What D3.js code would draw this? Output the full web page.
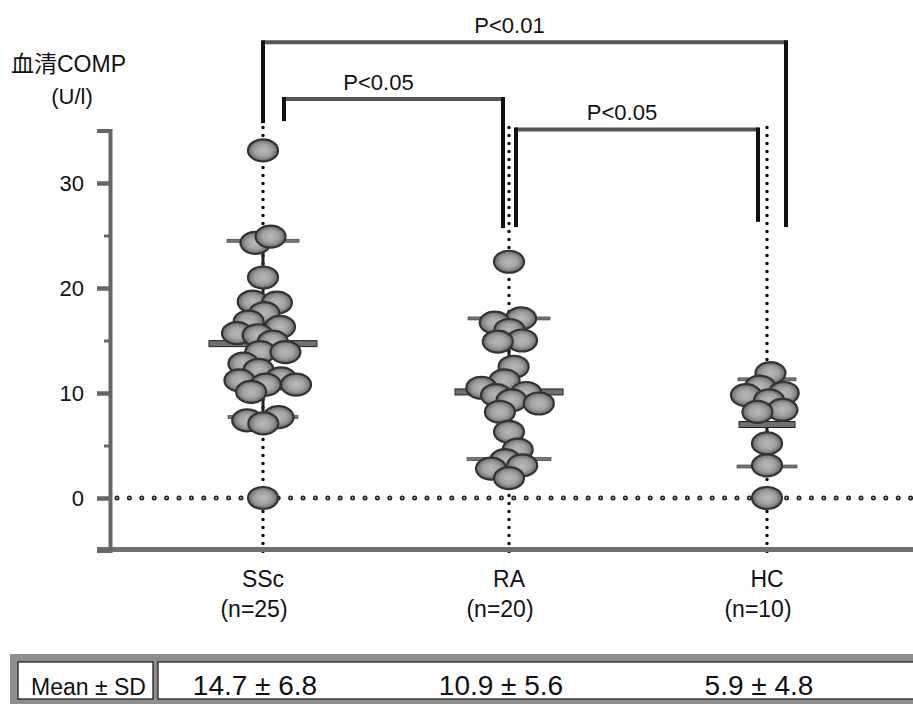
<!DOCTYPE html>
<html>
<head>
<meta charset="utf-8">
<script src="https://cdn.jsdelivr.net/npm/d3@7"></script>
<style>
  body { margin: 0; background: #fff; }
  svg text { font-family: "Liberation Sans", Arial, "Noto Sans CJK JP", sans-serif; fill: #111; }
</style>
</head>
<body>
<div class="comp-chart"></div>
<script>
"use strict";

// values
const categories = ["SSc", "RA", "HC"];
const n_labels = ["(n=25)", "(n=20)", "(n=10)"];
const ssc_values = [33.1, 24.3, 24.9, 21.0, 18.7, 18.6, 17.6, 16.8, 16.3, 15.7, 15.5, 14.9,
    13.9, 13.9, 12.8, 12.2, 11.4, 11.2, 10.8, 10.8, 10.1, 7.7, 7.4, 7.1, 0.0];
const ra_values = [22.5, 17.1, 16.7, 16.0, 15.0, 14.9, 12.5, 11.2, 10.5, 10.0, 9.8, 9.3,
    9.0, 8.2, 6.3, 4.6, 3.6, 3.1, 2.8, 1.9];
const hc_values = [11.9, 10.6, 10.0, 9.8, 9.3, 8.4, 8.2, 5.2, 3.1, 0.0];
const center_values = [14.7, 10.1, 7.0];
const upper_values = [24.5, 17.1, 11.3];
const lower_values = [7.7, 3.7, 3.0];
const mean_sd_labels = ["14.7 \u00b1 6.8", "10.9 \u00b1 5.6", "5.9 \u00b1 4.8"];
const y_ticks = [0, 10, 20, 30];
const y_minor_ticks = [5, 15, 25];
const brackets = [
    { from: "SSc", to: "HC", label: "P<0.01", top: 43.4, left_end: 35.7, right_end: 25.8 },
    { from: "SSc", to: "RA", label: "P<0.05", top: 38.0, left_end: 35.9, right_end: 25.7 },
    { from: "RA", to: "HC", label: "P<0.05", top: 35.1, left_end: 25.8, right_end: 26.3 }
];

window.onload = () => main();

function main() {
    const config = { width: 913, height: 704, axis_x: 110 };
    const svg = d3.select(".comp-chart")
        .append("svg")
        .attr("width", config.width)
        .attr("height", config.height);

    const x = d3.scaleOrdinal().domain(categories).range([263, 509, 767]);
    const y = d3.scaleLinear().domain([-5, 35]).range([550.5, 130.5]);

    const defs = svg.append("defs");
    const grad = defs.append("radialGradient").attr("id", "dot-fill");
    grad.append("stop").attr("offset", "0%").attr("stop-color", "#b9b9b9");
    grad.append("stop").attr("offset", "55%").attr("stop-color", "#a2a2a2");
    grad.append("stop").attr("offset", "85%").attr("stop-color", "#7c7c7c");
    grad.append("stop").attr("offset", "100%").attr("stop-color", "#666");

    // y label
    svg.append("text").attr("x", 11).attr("y", 72).style("font-size", "23px").text("血清COMP");
    svg.append("text").attr("x", 72).attr("y", 104).attr("text-anchor", "middle")
        .style("font-size", "22px").text("(U/l)");

    // brackets with p values
    const inset = [[0, 19], [21, -6], [7, -9]];
    brackets.forEach((b, i) => {
        const x0 = x(b.from) + inset[i][0];
        const x1 = x(b.to) + inset[i][1];
        const g = svg.append("g");
        g.append("line").attr("x1", x0).attr("x2", x1).attr("y1", y(b.top)).attr("y2", y(b.top))
            .attr("stroke", "#555").attr("stroke-width", 4);
        g.append("line").attr("x1", x0).attr("x2", x0).attr("y1", y(b.top) - 2).attr("y2", y(b.left_end))
            .attr("stroke", "#111").attr("stroke-width", 4);
        g.append("line").attr("x1", x1).attr("x2", x1).attr("y1", y(b.top) - 2).attr("y2", y(b.right_end))
            .attr("stroke", "#111").attr("stroke-width", 4);
        g.append("text").attr("x", (x0 + x1) / 2 - 15).attr("y", y(b.top) - 9)
            .attr("text-anchor", "middle").style("font-size", "22px").text(b.label);
    });

    // dotted group lines
    svg.selectAll(".group-line")
        .data(categories)
        .enter()
        .append("line")
        .attr("class", "group-line")
        .attr("x1", d => x(d)).attr("x2", d => x(d))
        .attr("y1", y(35) - 3).attr("y2", y(-5) + 2)
        .attr("stroke", "#111").attr("stroke-width", 3.5)
        .attr("stroke-linecap", "round").attr("stroke-dasharray", "0 8");

    // zero reference line, dots drawn as small rings
    svg.append("line").attr("x1", 117).attr("x2", 913).attr("y1", y(0)).attr("y2", y(0))
        .attr("stroke", "#222").attr("stroke-width", 5)
        .attr("stroke-linecap", "round").attr("stroke-dasharray", "0 12.4");
    svg.append("line").attr("x1", 117).attr("x2", 913).attr("y1", y(0)).attr("y2", y(0))
        .attr("stroke", "#fff").attr("stroke-width", 1.6)
        .attr("stroke-linecap", "round").attr("stroke-dasharray", "0 12.4");

    // solid range line and summary bars
    const thick_half = [54, 54, 28];
    const thin_half = [[36, 35], [41, 42], [29, 30]];
    categories.forEach((c, i) => {
        svg.append("line").attr("x1", x(c)).attr("x2", x(c))
            .attr("y1", y(upper_values[i])).attr("y2", y(lower_values[i]))
            .attr("stroke", "#222").attr("stroke-width", 3);
        [upper_values[i], lower_values[i]].forEach((v, k) => {
            svg.append("rect").attr("x", x(c) - thin_half[i][k]).attr("y", y(v) - 1.5)
                .attr("width", thin_half[i][k] * 2).attr("height", 3)
                .attr("fill", "#777").attr("stroke", "#333").attr("stroke-width", 0.6);
        });
        svg.append("rect").attr("x", x(c) - thick_half[i]).attr("y", y(center_values[i]) - 3)
            .attr("width", thick_half[i] * 2).attr("height", 6)
            .attr("fill", "#6f6f6f").attr("stroke", "#222").attr("stroke-width", 1);
    });

    // dots, spread sideways like a beeswarm
    const nodes = [];
    [ssc_values, ra_values, hc_values].forEach((vals, i) => {
        vals.forEach(v => nodes.push({ group: categories[i], value: v, fy: y(v) }));
    });
    d3.forceSimulation(nodes)
        .force("x", d3.forceX(d => x(d.group)).strength(0.14))
        .force("collide", d3.forceCollide(8.2))
        .stop()
        .tick(300);

    svg.append("g")
        .selectAll("ellipse")
        .data(nodes)
        .enter()
        .append("ellipse")
        .attr("cx", d => d.x)
        .attr("cy", d => d.fy)
        .attr("rx", 15)
        .attr("ry", 11)
        .attr("fill", "url(#dot-fill)")
        .attr("stroke", "#333")
        .attr("stroke-width", 2.2);

    // axes
    svg.append("line").attr("x1", 97).attr("x2", 913).attr("y1", y(-5) - 1).attr("y2", y(-5) - 1)
        .attr("stroke", "#6f6f6f").attr("stroke-width", 5);

    const y_axis = svg.append("g").attr("transform", `translate(${config.axis_x},0)`)
        .call(d3.axisLeft(y).tickValues(y_ticks).tickSize(13).tickSizeOuter(13).tickPadding(13));
    y_axis.select(".domain").attr("stroke", "#666").attr("stroke-width", 4).attr("fill", "none");
    y_axis.selectAll(".tick line").attr("stroke", "#666").attr("stroke-width", 4.5);
    y_axis.selectAll(".tick text").style("font-size", "22px").attr("fill", "#111");

    const minor_axis = svg.append("g").attr("transform", `translate(${config.axis_x},0)`)
        .call(d3.axisLeft(y).tickValues(y_minor_ticks).tickSize(6).tickFormat(""));
    minor_axis.select(".domain").remove();
    minor_axis.selectAll(".tick line").attr("stroke", "#666").attr("stroke-width", 3);

    // category labels
    svg.selectAll(".cat-label")
        .data(categories)
        .enter()
        .append("text")
        .attr("class", "cat-label")
        .attr("x", d => x(d))
        .attr("y", 587)
        .attr("text-anchor", "middle")
        .style("font-size", "23px")
        .text(d => d);
    svg.selectAll(".n-label")
        .data(categories)
        .enter()
        .append("text")
        .attr("class", "n-label")
        .attr("x", d => x(d) - 9)
        .attr("y", 617)
        .attr("text-anchor", "middle")
        .style("font-size", "23px")
        .text((d, i) => n_labels[i]);

    // mean +- SD table
    const table = svg.append("g");
    table.append("rect").attr("x", 10).attr("y", 654).attr("width", 910).attr("height", 55)
        .attr("fill", "#8e8e8e");
    table.append("rect").attr("x", 18).attr("y", 662).attr("width", 135).attr("height", 37)
        .attr("fill", "#fff").attr("stroke", "#222").attr("stroke-width", 1.3);
    table.append("rect").attr("x", 158).attr("y", 662).attr("width", 770).attr("height", 37)
        .attr("fill", "#fff").attr("stroke", "#222").attr("stroke-width", 1.3);
    table.append("text").attr("x", 31).attr("y", 695).style("font-size", "23px").text("Mean \u00b1 SD");
    table.selectAll(".mean-sd")
        .data(categories)
        .enter()
        .append("text")
        .attr("class", "mean-sd")
        .attr("x", d => x(d) - 8)
        .attr("y", 695)
        .attr("text-anchor", "middle")
        .style("font-size", "28px")
        .text((d, i) => mean_sd_labels[i]);
}
</script>
</body>
</html>
